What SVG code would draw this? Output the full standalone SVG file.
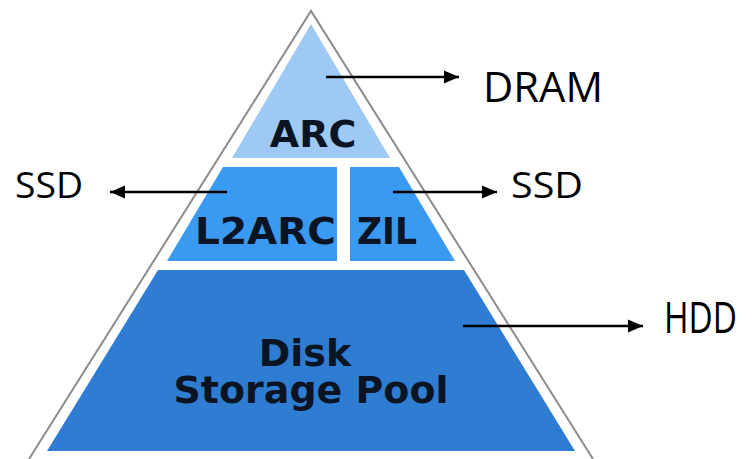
<svg xmlns="http://www.w3.org/2000/svg" width="755" height="459" viewBox="0 0 755 459">
  <style>
    .tier-text { font-family: "DejaVu Sans", Verdana, sans-serif; font-weight: bold; font-size: 38px; fill: #0b1422; }
    .media { font-family: "Open Sans", "Liberation Sans", sans-serif; font-weight: 500; fill: #000; }
    .link { stroke: #000; stroke-width: 2.5; fill: none; marker-end: url(#head); }
    .outline { fill: none; stroke: #8c8c8c; stroke-width: 2; }
  </style>
  <defs>
    <marker id="head" markerUnits="userSpaceOnUse" markerWidth="16" markerHeight="14" refX="15" refY="7" orient="auto">
      <path d="M0,0.5 L15,7 L0,13.5 Z" fill="#000"/>
    </marker>
  </defs>

  <rect width="755" height="459" fill="#fff"/>

  <!-- pyramid outline -->
  <polyline class="outline" points="29,459 311,11 593,459"/>

  <g id="arc">
    <polygon points="311,24 390,158 232,158" fill="#9ec9f4"/>
    <text class="tier-text" x="313" y="147" text-anchor="middle">ARC</text>
  </g>

  <g id="l2arc">
    <polygon points="223,167 337,167 337,261 167,261" fill="#3a9af2"/>
    <text class="tier-text" x="195" y="244" textLength="141" lengthAdjust="spacingAndGlyphs">L2ARC</text>
  </g>

  <g id="zil">
    <polygon points="350,167 399,167 455,261 350,261" fill="#3a9af2"/>
    <text class="tier-text" x="357" y="244" textLength="60" lengthAdjust="spacingAndGlyphs">ZIL</text>
  </g>

  <g id="disk-pool">
    <polygon points="158,270 464,270 575,451 47,451" fill="#2e7dd2"/>
    <text class="tier-text" x="305" y="366" text-anchor="middle" font-size="37">Disk</text>
    <text class="tier-text" x="311" y="403" text-anchor="middle" font-size="37" textLength="275" lengthAdjust="spacingAndGlyphs">Storage Pool</text>
  </g>

  <g id="label-dram">
    <text class="media" x="483" y="101.5" font-size="42" textLength="120" lengthAdjust="spacingAndGlyphs">DRAM</text>
  </g>
  <g id="label-ssd-left">
    <text class="media" x="15" y="198" font-size="37" textLength="68" lengthAdjust="spacingAndGlyphs">SSD</text>
  </g>
  <g id="label-ssd-right">
    <text class="media" x="511" y="198" font-size="37" textLength="72" lengthAdjust="spacingAndGlyphs">SSD</text>
  </g>
  <g id="label-hdd">
    <text class="media" x="664" y="333" font-size="43" textLength="73" lengthAdjust="spacingAndGlyphs">HDD</text>
  </g>

  <g id="connectors">
    <line class="link" x1="326" y1="77" x2="459" y2="77"/>
    <line class="link" x1="227" y1="192" x2="110" y2="192"/>
    <line class="link" x1="393" y1="192" x2="497" y2="192"/>
    <line class="link" x1="463" y1="326" x2="643" y2="326"/>
  </g>
</svg>
